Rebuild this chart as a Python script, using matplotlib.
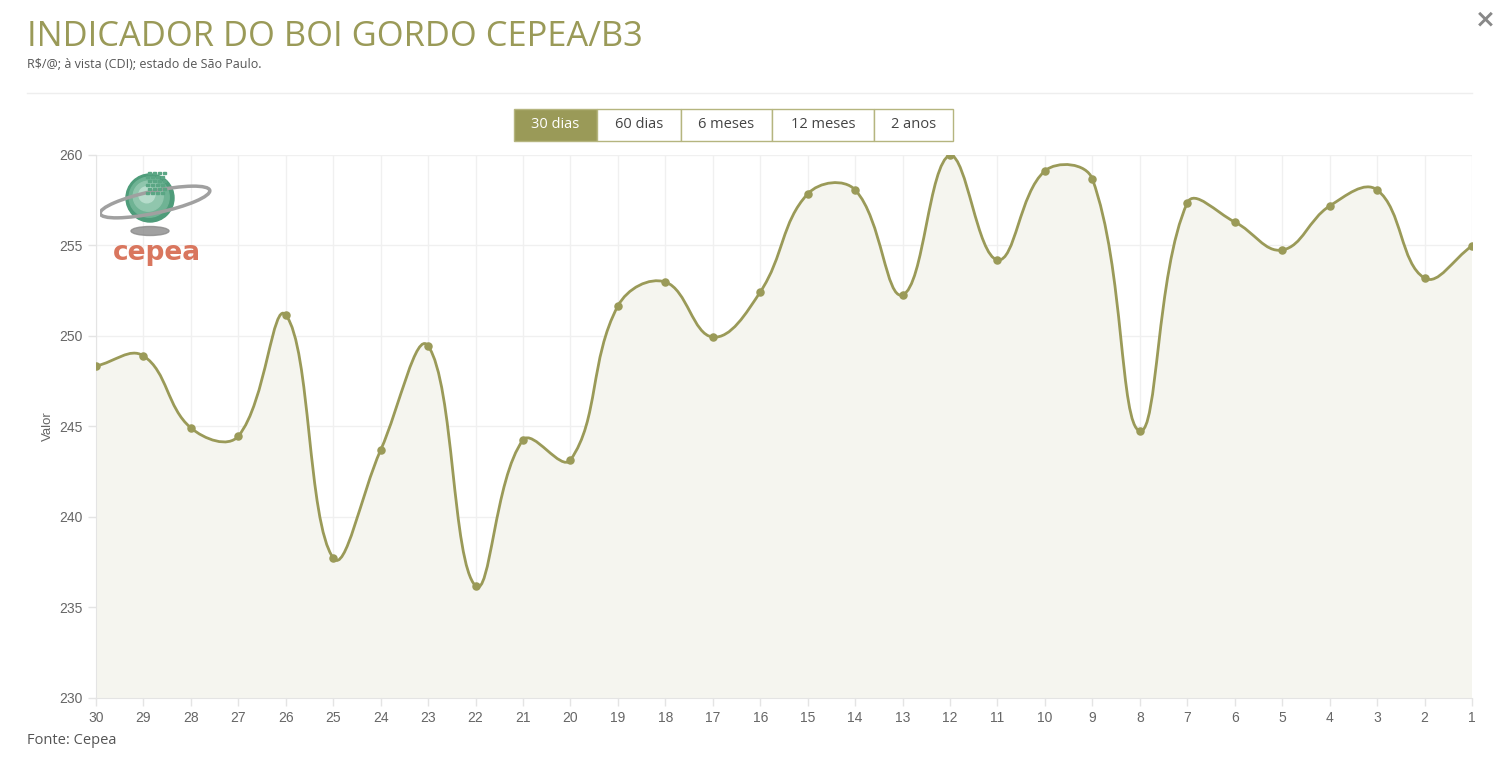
import matplotlib.pyplot as plt
from matplotlib.path import Path
from matplotlib.patches import PathPatch, Rectangle, Ellipse, Circle
import numpy as np

# dias (eixo x) e valores R$/@
dias = [30, 29, 28, 27, 26, 25, 24, 23, 22, 21, 20, 19, 18, 17, 16,
        15, 14, 13, 12, 11, 10, 9, 8, 7, 6, 5, 4, 3, 2, 1]
valores = [248.34, 248.90, 244.92, 244.47, 251.16, 237.73, 243.70, 249.45,
           236.19, 244.25, 243.15, 251.66, 252.98, 249.94, 252.43, 257.85,
           258.07, 252.27, 260.00, 254.20, 259.12, 258.67, 244.75, 257.35,
           256.30, 254.75, 257.18, 258.07, 253.20, 254.97]
y_ticks = [230, 235, 240, 245, 250, 255, 260]
botoes = ['30 dias', '60 dias', '6 meses', '12 meses', '2 anos']

olive = '#9a9a58'
grid_c = '#f0f0f0'
tick_c = '#666666'

fig = plt.figure(figsize=(15, 7.63), dpi=100)
ax = fig.add_axes([0.064, 0.0852, 0.9173, 0.7117])

# curva estilo Chart.js (bezier, tension 0.4), em escala de pixels
n = len(valores)
sx, sy = 47.45, 18.1
px = np.arange(n) * sx
py = np.array(valores) * sy
t = 0.4
cp_prev = []
cp_next = []
for i in range(n):
    p0 = (px[max(i - 1, 0)], py[max(i - 1, 0)])
    p1 = (px[i], py[i])
    p2 = (px[min(i + 1, n - 1)], py[min(i + 1, n - 1)])
    d01 = np.hypot(p1[0] - p0[0], p1[1] - p0[1])
    d12 = np.hypot(p2[0] - p1[0], p2[1] - p1[1])
    tot = d01 + d12
    s01 = d01 / tot if tot else 0
    s12 = d12 / tot if tot else 0
    fa, fb = t * s01, t * s12
    cp_prev.append((p1[0] - fa * (p2[0] - p0[0]), p1[1] - fa * (p2[1] - p0[1])))
    cp_next.append((p1[0] + fb * (p2[0] - p0[0]), p1[1] + fb * (p2[1] - p0[1])))


def to_data(p):
    return (p[0] / sx, min(max(p[1] / sy, 230), 260))


verts = [(0, valores[0])]
codes = [Path.MOVETO]
for i in range(n - 1):
    verts += [to_data(cp_next[i]), to_data(cp_prev[i + 1]), (i + 1, valores[i + 1])]
    codes += [Path.CURVE4] * 3

line_path = Path(verts, codes)
fill_path = Path(verts + [(n - 1, 230), (0, 230), (0, valores[0])],
                 codes + [Path.LINETO, Path.LINETO, Path.CLOSEPOLY])
ax.add_patch(PathPatch(fill_path, facecolor='#f5f5ef', edgecolor='none', zorder=1))
ax.add_patch(PathPatch(line_path, facecolor='none', edgecolor=olive, lw=2, zorder=3))
ax.scatter(range(n), valores, s=26, color=olive, zorder=4)

ax.set_xlim(0, n - 1)
ax.set_ylim(230, 260)
ax.set_xticks(range(n))
ax.set_xticklabels([str(d) for d in dias])
ax.set_yticks(y_ticks)
ax.grid(True, color=grid_c, lw=1, zorder=0)
ax.set_axisbelow(True)
for s in ['top', 'right']:
    ax.spines[s].set_visible(False)
for s in ['left', 'bottom']:
    ax.spines[s].set_color('#e4e4e4')
ax.tick_params(colors='#e4e4e4', labelcolor=tick_c, labelsize=10, length=6, width=1)
for lab in ax.get_xticklabels() + ax.get_yticklabels():
    lab.set_family('Liberation Sans')
ax.set_ylabel('Valor', color=tick_c, fontsize=9.5, family='Liberation Sans', labelpad=4)

# cabecalho
fig.text(0.018, 0.952, 'INDICADOR DO BOI GORDO CEPEA/B3', fontsize=24.8, color=olive,
         family='Open Sans', va='center')
fig.text(0.018, 0.916, 'R$/@; à vista (CDI); estado de São Paulo.', fontsize=9,
         color='#555555', family='Open Sans', va='center')
fig.add_artist(plt.Line2D([0.018, 0.9813], [0.878, 0.878], color='#eeeeee', lw=1))
fig.text(0.99, 0.975, '×', fontsize=18, color='#888888', ha='center', va='center',
         fontweight='bold')
fig.text(0.018, 0.029, 'Fonte: Cepea', fontsize=10.5, color='#555555',
         family='Open Sans', va='center')

# botoes de periodo
W, H = 1500, 763
bx = [514, 597, 681, 772, 874, 953]
for i, lab in enumerate(botoes):
    x0, x1 = bx[i], bx[i + 1]
    fc = olive if i == 0 else 'white'
    fig.add_artist(Rectangle((x0 / W, 1 - 141 / H), (x1 - x0) / W, 32 / H,
                             transform=fig.transFigure, facecolor=fc,
                             edgecolor='#b5b57f', lw=1))
    fig.text((x0 + x1) / 2 / W, 1 - 125 / H, lab, ha='center', va='center',
             fontsize=10.5, family='Open Sans',
             color='white' if i == 0 else '#444444')

# logo cepea (aproximado)
lax = fig.add_axes([100 / W, 1 - 268 / H, 115 / W, 108 / H])
lax.set_xlim(0, 115)
lax.set_ylim(0, 108)
lax.axis('off')
lax.add_patch(Ellipse((50, 37), 38, 9, color='#8a8a8a', alpha=0.8))
for r, c in [(24, '#4e9c7a'), (20, '#6fb394'), (15, '#90c6ad'), (8, '#b6dccb')]:
    lax.add_patch(Circle((50 - (24 - r) * 0.2, 70 + (24 - r) * 0.2), r, color=c))
lax.add_patch(Ellipse((55, 66), 112, 22, angle=12, fill=False, edgecolor='#a0a0a0',
                      lw=2.5))
for k in range(6):
    for j in range(4):
        lax.add_patch(Rectangle((46 + j * 5 + (k % 2) * 2, 74 + k * 4), 2.5, 2.5,
                                color='#5aa684'))
lax.text(57, 15, 'cepea', ha='center', va='center', fontsize=19, color='#d9765e',
         family='DejaVu Sans', fontweight='bold')

fig.savefig('out.png', dpi=100)
